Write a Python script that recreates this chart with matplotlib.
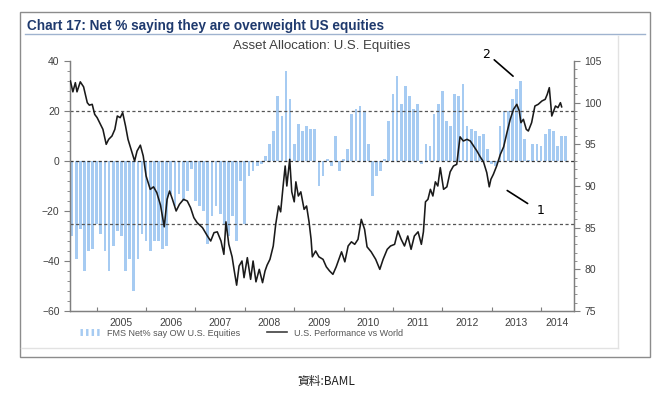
import matplotlib
matplotlib.use("Agg")
import matplotlib.pyplot as plt
from matplotlib.ticker import MultipleLocator, FixedLocator
from matplotlib.lines import Line2D
from matplotlib.patches import Rectangle

# FMS net % saying overweight US equities, monthly from Jul 2004 (month index 0)
fms_net = [-30, -39, -27, -44, -36, -35, -25, -29, -36, -44, -34, -28,
           -30, -44, -39, -52, -39, -29, -32, -36, -32, -32, -35, -34,
           -13, -18, -13, -16, -12, -3, -16, -18, -20, -33, -22, -18,
           -21, -25, -30, -22, -32, -8, -25, -6, -4, -2, -1, 2,
           7, 12, 26, 18, 36, 25, 7, 15, 12, 14, 13, 13,
           -10, -6, 1, -2, 10, -4, 1, 5, 19, 21, 22, 20,
           7, -14, -6, -4, 1, 16, 27, 34, 23, 30, 26, 21,
           23, -1, 7, 6, 19, 23, 28, 16, 14, 27, 26, 31,
           14, 13, 12, 10, 11, 5, -1, -2, 14, 20, 20, 25,
           29, 32, 9, 0.5, 7, 7, 6, 11, 13, 12, 6, 10, 10]
fms_month = list(range(len(fms_net)))

# US performance vs world (right axis), month index / level
perf_month = [-0.4, 0.2, 0.8, 1.2, 2.0, 2.8, 3.7, 4.2, 4.9, 5.5, 6.1, 6.9, 7.5, 8.3, 8.9, 9.7,
              10.4, 11.0, 11.7, 12.3, 13.0, 13.6, 14.4, 15.2, 15.8, 16.6, 17.3, 18.0, 19.0, 19.8,
              20.6, 21.5, 22.4, 23.1, 23.7, 24.4, 25.3, 26.1, 27.1, 28.0, 28.8, 29.6, 30.4, 31.7,
              32.9, 33.7, 34.5, 35.3, 36.2, 36.9, 37.4, 38.1, 38.9, 39.4, 40.0, 40.6, 41.3, 41.8,
              42.6, 43.4, 44.0, 44.7, 45.5, 46.3, 46.9, 47.4, 48.1, 48.9, 49.5, 50.2, 50.7, 51.3,
              51.8, 52.2, 52.9, 53.4, 54.0, 54.4, 55.0, 55.6, 56.4, 57.0, 57.6, 58.1, 58.4, 59.2,
              60.0, 61.0, 61.8, 62.6, 63.4, 64.2, 65.5, 66.3, 67.1, 67.9, 68.7, 69.5, 70.3, 71.1,
              71.7, 72.7, 73.8, 74.8, 75.6, 76.6, 77.4, 78.4, 79.2, 80.0, 80.8, 81.6, 82.4, 83.2,
              84.1, 84.9, 85.4, 85.9, 86.5, 87.1, 87.7, 88.3, 88.9, 89.5, 90.3, 91.1, 91.9, 92.7,
              93.5, 94.3, 95.1, 96.0, 96.8, 97.6, 98.4, 99.2, 100.0, 100.8, 101.4, 101.8, 102.4, 103.2,
              104.1, 104.9, 105.7, 106.5, 107.3, 108.1, 108.7, 109.1, 109.7, 110.4, 110.9, 111.7, 112.5, 113.3,
              114.2, 115.0, 115.5, 116.0, 116.6, 117.2, 117.5, 118.1, 118.7, 119.0]
perf_value = [102.6, 101.3, 102.4, 101.3, 102.5, 101.9, 100.0, 99.7, 99.8, 98.6, 98.2, 97.4, 96.8, 95.0, 95.6, 96.0,
              96.8, 98.4, 98.2, 98.8, 97.2, 95.6, 94.3, 93.0, 94.2, 94.9, 93.6, 91.2, 89.6, 89.9,
              89.2, 87.7, 85.1, 88.4, 89.4, 88.4, 87.0, 87.8, 88.4, 88.2, 87.4, 86.2, 85.6, 85.0,
              84.0, 83.4, 84.4, 84.5, 83.4, 81.8, 85.7, 83.0, 81.5, 79.9, 78.1, 80.4, 81.0, 79.0,
              81.4, 78.8, 81.0, 78.5, 80.0, 78.4, 79.8, 80.5, 81.2, 82.8, 85.4, 87.6, 86.9, 90.0,
              92.4, 90.0, 93.2, 89.3, 88.1, 90.5, 88.8, 89.3, 87.2, 87.6, 85.7, 83.6, 81.5, 82.2,
              81.5, 81.2, 80.3, 79.8, 79.4, 80.3, 82.1, 80.9, 82.8, 83.3, 83.0, 83.6, 86.0, 84.8,
              82.7, 82.1, 81.2, 80.0, 81.2, 82.4, 82.8, 83.0, 84.6, 83.6, 82.8, 84.0, 82.4, 84.0,
              84.5, 83.0, 84.5, 88.1, 88.4, 89.6, 88.8, 90.5, 90.0, 92.2, 89.6, 89.9, 91.7, 92.4,
              92.6, 95.9, 95.4, 95.6, 95.4, 94.8, 94.2, 93.5, 92.9, 91.6, 89.9, 90.8, 91.4, 92.4,
              93.8, 94.7, 96.4, 98.0, 99.2, 99.8, 99.0, 97.6, 98.0, 96.8, 96.6, 97.6, 99.6, 99.8,
              100.2, 100.4, 101.0, 101.8, 98.4, 99.2, 99.6, 99.4, 100.0, 99.5]

years = list(range(2005, 2015))
first_jan = 6          # month index of Jan 2005
x_min, x_max = -0.5, 122

grey = '#7f7f7f'
txt = '#404040'
bar_blue = '#a6cbf2'

fig = plt.figure(figsize=(6.52, 3.94), dpi=100)
fig.patches.append(Rectangle((20 / 652, 1 - 357 / 394), 630 / 652, 345 / 394,
                             transform=fig.transFigure, fill=False, edgecolor='#8c8c8c', lw=1.0))
# faint inner border of the pasted chart image
fig.add_artist(Line2D([618 / 652, 618 / 652], [1 - 36 / 394, 1 - 348 / 394],
                      transform=fig.transFigure, color='#e2e2e2', lw=1.0))
fig.add_artist(Line2D([21 / 652, 618 / 652], [1 - 348 / 394, 1 - 348 / 394],
                      transform=fig.transFigure, color='#e2e2e2', lw=1.0))

fig.text(27 / 652, 1 - 26 / 394, 'Chart 17: Net % saying they are overweight US equities',
         fontsize=9.8, fontweight='bold', color='#1f3a6e', va='center',
         family=['Liberation Sans Narrow', 'Liberation Sans', 'DejaVu Sans'])
fig.add_artist(Line2D([25 / 652, 645 / 652], [1 - 33.5 / 394, 1 - 33.5 / 394],
                      transform=fig.transFigure, color='#9fb3cf', lw=1.0))
fig.text(322 / 652, 1 - 45.5 / 394, 'Asset Allocation: U.S. Equities', fontsize=9.5,
         color=txt, ha='center', va='center', family='Liberation Sans')

ax = fig.add_axes([70 / 652, 1 - 311 / 394, 504 / 652, 250 / 394])
ax2 = ax.twinx()

ax.bar(fms_month, fms_net, width=0.66, color=bar_blue, linewidth=0, zorder=2,
       label='FMS Net% say OW U.S. Equities')
for lvl, c in [(20, '#555555'), (-25, '#555555'), (0, '#333333')]:
    ax.axhline(lvl, color=c, lw=0.9, ls=(0, (2.5, 2)), zorder=3)

ax2.plot(perf_month, perf_value, color='#1a1a1a', lw=1.15, zorder=4,
         label='U.S. Performance vs World')

ax.set_xlim(x_min, x_max)
ax.set_ylim(-60, 40)
ax2.set_ylim(75, 105)
ax.set_yticks(range(-60, 41, 20))
ax.yaxis.set_minor_locator(MultipleLocator(4))
ax2.set_yticks(range(75, 106, 5))
ax2.yaxis.set_minor_locator(MultipleLocator(1))

jan_ticks = [first_jan + 12 * k for k in range(len(years))]
ax.xaxis.set_major_locator(FixedLocator(jan_ticks))
ax.xaxis.set_minor_locator(FixedLocator([(max(x_min, j) + min(x_max, j + 12)) / 2 for j in jan_ticks]))
ax.xaxis.set_major_formatter(plt.NullFormatter())
ax.xaxis.set_minor_formatter(plt.FixedFormatter([str(y) for y in years]))
ax.tick_params(axis='x', which='major', direction='in', length=3, color=grey)
ax.tick_params(axis='x', which='minor', length=0, labelsize=7.5, labelcolor=txt, pad=5)
ax.tick_params(axis='y', which='both', direction='out', color=grey, labelsize=7.5, labelcolor=txt)
ax.tick_params(axis='y', which='major', length=4)
ax.tick_params(axis='y', which='minor', length=2)
ax2.tick_params(axis='y', which='both', direction='out', color=grey, labelsize=7.5, labelcolor=txt)
ax2.tick_params(axis='y', which='major', length=4)
ax2.tick_params(axis='y', which='minor', length=2)

for a in (ax, ax2):
    a.spines['top'].set_visible(False)
    for s in ('left', 'right', 'bottom'):
        a.spines[s].set_color(grey)
        a.spines[s].set_linewidth(0.9)
    a.patch.set_visible(False)

for tl in ax.get_xticklabels(minor=True) + ax.get_yticklabels() + ax2.get_yticklabels():
    tl.set_family('Liberation Sans')

# annotations
ax.annotate('', xy=(107.7, 33.2), xytext=(102.1, 41.2), annotation_clip=False,
            arrowprops=dict(arrowstyle='-', color='black', lw=1.2))
ax.text(100.7, 42.4, '2', fontsize=9, ha='center', va='center', clip_on=False)
ax.annotate('', xy=(111.3, -17.6), xytext=(105.2, -11.2),
            arrowprops=dict(arrowstyle='-', color='black', lw=1.2))
ax.text(114.0, -20.0, '1', fontsize=9, ha='center', va='center')

h1 = Line2D([], [], color=bar_blue, lw=5, ls=(0, (0.35, 0.45)))
h2 = Line2D([], [], color='#404040', lw=1.2)
fig.legend([h1, h2], ['FMS Net% say OW U.S. Equities', 'U.S. Performance vs World'],
           loc='center left', bbox_to_anchor=(72 / 652, 1 - 333 / 394), ncol=2, frameon=False,
           prop={'family': 'Liberation Sans', 'size': 6.5}, labelcolor='#555555',
           handlelength=2.2, columnspacing=3.0, handletextpad=0.8)

fig.text(326 / 652, 1 - 381 / 394, '資料:BAML', fontsize=8.5, ha='center', va='center',
         color='#222222', family=['Noto Sans CJK TC', 'DejaVu Sans'])

fig.savefig('out.png', dpi=100)
